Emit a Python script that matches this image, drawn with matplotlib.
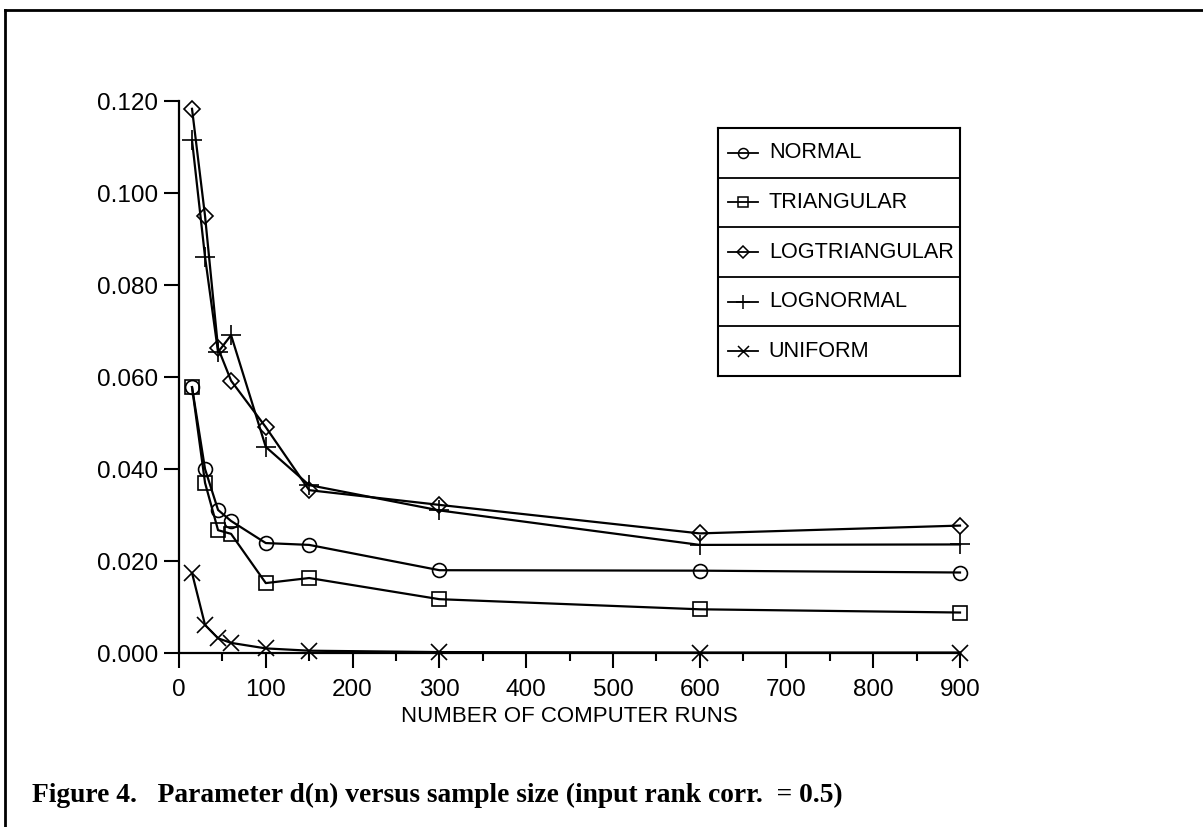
import matplotlib
matplotlib.use('Agg')
import matplotlib.pyplot as plt
from matplotlib.lines import Line2D
from matplotlib.ticker import MultipleLocator, FormatStrFormatter

# numero de corridas (tamanho da amostra)
runs = [15, 30, 45, 60, 100, 150, 300, 600, 900]

# d(n), uma lista por distribuicao
normal = [0.0578, 0.0400, 0.0311, 0.0287, 0.0239, 0.0235, 0.0180, 0.0179, 0.0175]
triangular = [0.0578, 0.0370, 0.0267, 0.0259, 0.0152, 0.0163, 0.0117, 0.0095, 0.0088]
logtriangular = [0.1183, 0.0950, 0.0663, 0.0592, 0.0491, 0.0354, 0.0322, 0.0260, 0.0277]
lognormal = [0.1115, 0.0861, 0.0654, 0.0691, 0.0448, 0.0365, 0.0310, 0.0235, 0.0236]
uniform = [0.0174, 0.0061, 0.0032, 0.0022, 0.0010, 0.0005, 0.0002, 0.0001, 0.0001]

series_names = ['NORMAL', 'TRIANGULAR', 'LOGTRIANGULAR', 'LOGNORMAL', 'UNIFORM']

x_label = 'NUMBER OF COMPUTER RUNS'
caption = 'Figure 4.   Parameter d(n) versus sample size (input rank corr.  = 0.5)'

W, H = 1203, 827


def estilo(nome):
    """Marcador de cada serie (traco preto, simbolo vazado)."""
    tabela = {
        'NORMAL': dict(marker='o', ms=10),
        'TRIANGULAR': dict(marker='s', ms=10),
        'LOGTRIANGULAR': dict(marker='D', ms=8),
        'LOGNORMAL': dict(marker='+', ms=14),
        'UNIFORM': dict(marker='x', ms=11),
    }
    return tabela[nome]


def desenhar_legenda(fig, nomes):
    """Legenda em caixa com uma linha por serie, separadas por tracos."""
    lax = fig.add_axes([718 / W, 1 - 376 / H, 242 / W, 248 / H])
    lax.set_xlim(0, 1)
    lax.set_ylim(0, len(nomes))
    lax.set_xticks([])
    lax.set_yticks([])
    for s in lax.spines.values():
        s.set_linewidth(1.5)
    for k in range(1, len(nomes)):
        lax.axhline(k, color='black', lw=1.3)
    for i, nome in enumerate(nomes):
        y = len(nomes) - i - 0.5
        st = estilo(nome)
        lax.plot([0.04, 0.165], [y, y], color='black', lw=1.3)
        lax.plot([0.1025], [y], color='black', marker=st['marker'],
                 ms=st['ms'] * 0.72, mfc='none', mec='black', mew=1.1)
        lax.text(0.21, y, nome, va='center', ha='left', fontsize=15.6)


def plotar():
    plt.rcParams['font.family'] = ['Liberation Sans', 'DejaVu Sans']

    fig = plt.figure(figsize=(W / 100, H / 100), dpi=100)
    ax = fig.add_axes([179 / W, 1 - 653 / H, (960 - 179) / W, (653 - 101) / H])

    dados = [normal, triangular, logtriangular, lognormal, uniform]
    for nome, ys in zip(series_names, dados):
        st = estilo(nome)
        ax.plot(runs, ys, color='black', lw=1.6, marker=st['marker'],
                ms=st['ms'], mfc='none', mec='black', mew=1.2, clip_on=False)

    ax.set_xlim(0, 900)
    ax.set_ylim(0, 0.12)
    ax.spines['top'].set_visible(False)
    ax.spines['right'].set_visible(False)
    ax.spines['left'].set_linewidth(1.6)
    ax.spines['bottom'].set_linewidth(1.6)

    ax.xaxis.set_major_locator(MultipleLocator(100))
    ax.xaxis.set_minor_locator(MultipleLocator(50))
    ax.yaxis.set_major_locator(MultipleLocator(0.02))
    ax.yaxis.set_major_formatter(FormatStrFormatter('%.3f'))

    ax.tick_params(axis='both', which='major', direction='out', length=11,
                   width=1.5, labelsize=17.5, colors='black')
    ax.tick_params(axis='x', which='major', pad=8)
    ax.tick_params(axis='y', which='major', pad=4)
    ax.tick_params(axis='x', which='minor', direction='out', length=6, width=1.5)

    fig.text((179 + 960) / 2 / W, 1 - 717 / H, x_label, ha='center', va='center',
             fontsize=16, family=['Liberation Sans Narrow', 'Liberation Sans'])

    desenhar_legenda(fig, series_names)

    # moldura da pagina (so topo e lado esquerdo)
    fig.add_artist(Line2D([5 / W, 5 / W], [0, 1 - 10 / H], transform=fig.transFigure,
                          color='black', lw=2))
    fig.add_artist(Line2D([5 / W, 1], [1 - 10 / H, 1 - 10 / H], transform=fig.transFigure,
                          color='black', lw=2))

    fig.text(32 / W, 1 - 795 / H, caption, ha='left', va='center', fontsize=19.8,
             family=['Liberation Serif', 'DejaVu Serif'], weight='bold')

    fig.savefig('out.png', dpi=100)
    plt.close(fig)


if __name__ == '__main__':
    plotar()
